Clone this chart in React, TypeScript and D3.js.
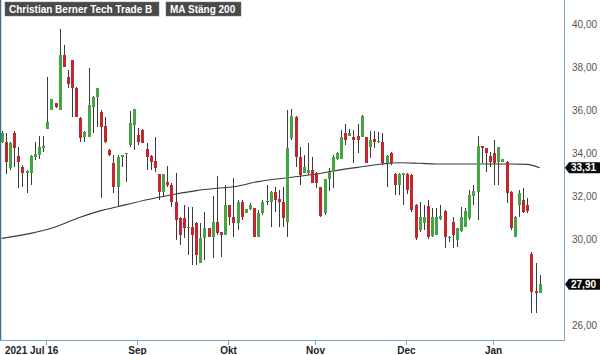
import React from "react";
import * as d3 from "d3";

const W = 600;
const H = 355;

const title = "Christian Berner Tech Trade B";
const maLabel = "MA Stäng 200";

const startDate = "2021-07-16";
const endDate = "2022-01-19";
const holidays = ["2021-12-24", "2021-12-31", "2022-01-06"];

const openV = [34.53,34.53,33.29,34.94,33.86,33.36,33.09,33.08,33.83,33.91,
34.23,35.10,36.00,36.31,36.00,38.56,37.52,38.33,37.04,35.64,
34.73,34.76,36.13,36.62,35.92,35.26,34.14,33.55,32.43,33.83,
33.95,34.37,35.30,34.84,35.07,34.17,33.86,33.64,33.02,32.20,
32.67,32.51,31.74,30.96,30.96,30.50,30.56,30.76,28.87,30.03,
30.50,30.11,30.80,30.34,30.19,31.58,31.04,30.73,31.74,31.20,
31.38,31.43,30.11,31.20,31.74,31.74,32.20,31.85,31.74,30.80,
34.68,35.66,33.83,33.08,33.06,33.21,33.08,32.40,31.22,32.78,
33.13,33.71,33.71,34.94,34.79,34.76,34.79,34.73,34.73,34.29,
34.64,34.53,34.53,33.52,34.01,33.02,32.51,32.98,33.02,32.98,
31.58,30.42,30.73,31.54,30.14,30.19,30.92,31.32,30.03,30.80,
29.95,30.39,30.57,30.96,32.00,32.20,34.33,34.22,33.86,34.01,
33.60,33.60,33.60,32.20,30.11,31.58,31.81,31.58,29.30,27.58,
27.47];

const highV = [35.02,34.92,34.51,35.02,34.29,33.44,33.21,33.91,34.53,34.79,
34.79,37.55,36.53,36.33,39.75,39.02,37.86,38.33,37.07,35.67,
35.02,37.97,36.65,37.02,36.00,35.69,34.19,33.91,33.91,33.91,
34.01,35.97,36.03,35.15,35.10,34.45,33.91,34.76,33.02,33.02,
33.40,32.60,33.06,31.04,31.58,31.50,31.50,30.79,30.73,31.27,
30.51,32.00,32.93,30.34,32.51,31.58,32.82,31.81,31.81,31.40,
31.66,31.44,31.35,31.81,32.51,32.23,32.43,32.28,32.43,36.00,
36.03,35.72,34.29,33.91,34.45,33.83,33.12,32.42,32.79,33.29,
33.91,34.06,35.07,35.35,35.10,35.07,35.35,35.77,34.74,35.04,
35.04,34.99,34.92,33.91,34.05,33.07,33.07,33.07,33.07,33.02,
31.63,31.74,31.58,31.81,31.44,31.43,31.58,31.35,30.14,31.04,
30.50,31.47,31.43,32.28,32.51,34.79,34.33,34.23,34.06,34.60,
34.29,33.72,33.63,32.23,31.07,32.28,32.36,31.89,29.41,28.90,
28.33];

const lowV = [34.47,33.02,33.21,33.36,32.36,32.43,32.13,32.51,33.67,33.71,
34.06,35.10,36.00,36.09,36.00,38.01,37.01,35.69,35.67,34.53,
34.53,34.74,34.93,35.22,31.89,34.45,33.86,32.13,31.50,33.36,
32.67,34.29,34.14,34.37,34.45,33.21,33.21,33.13,31.81,31.97,
32.43,31.50,29.95,29.72,30.03,29.26,28.79,28.79,28.87,29.02,
30.11,29.10,30.19,29.18,30.19,30.65,30.11,30.42,30.88,31.20,
31.35,30.11,30.11,31.12,31.58,30.57,31.27,30.57,30.57,30.11,
34.60,33.36,32.51,33.06,32.98,32.59,32.36,31.04,31.12,32.25,
32.36,33.67,33.71,34.37,34.79,33.52,33.99,34.73,33.52,33.75,
34.22,34.48,33.44,32.43,33.44,32.05,32.05,31.58,32.09,31.27,
29.95,30.34,30.42,29.99,30.11,30.19,30.88,29.57,29.87,29.57,
29.64,30.34,30.57,30.88,31.58,30.88,33.52,33.13,33.36,32.51,
32.51,33.58,31.66,30.42,30.09,31.04,31.20,31.20,26.57,26.57,
27.47];

const closeV = [34.92,33.60,34.45,34.22,33.60,33.08,33.16,33.86,33.95,34.29,
34.33,35.46,36.50,36.13,38.56,38.01,37.21,37.01,35.69,34.71,
34.99,36.23,36.62,37.01,35.22,34.53,33.91,32.43,33.83,33.91,
34.01,35.38,36.03,34.53,34.48,33.83,33.60,33.29,32.20,33.02,
32.51,31.74,30.88,30.19,30.50,30.57,30.19,29.26,30.03,30.50,
30.11,30.80,30.27,30.19,31.58,31.04,30.73,31.74,31.04,31.38,
31.58,30.11,31.20,31.74,31.79,32.20,31.81,31.74,30.96,34.22,
35.72,33.83,32.98,33.36,33.21,32.62,32.62,31.07,32.79,33.13,
33.83,34.01,34.76,34.60,34.92,34.60,34.60,35.72,33.52,34.60,
34.53,34.57,33.52,33.86,33.52,32.51,33.02,33.06,32.28,31.35,
30.03,31.01,31.01,30.08,31.01,31.01,31.07,30.08,30.11,30.19,
30.50,31.01,31.32,32.05,32.25,34.33,34.22,33.99,33.60,33.52,
34.29,33.71,32.13,30.50,31.04,32.13,31.27,31.32,27.55,27.47,
27.90];

// MA 200 read at points (trading-day index, value)
const maIndex = [0, 12, 19, 24, 28, 32, 38, 42, 47, 52, 56, 62, 69, 76, 80, 87, 92, 96, 101, 105, 115, 123, 127, 130];
const maValue = [30.03, 30.50, 31.01, 31.32, 31.50, 31.69, 31.94, 32.09, 32.25, 32.36, 32.43, 32.67, 32.85, 33.02, 33.16, 33.36, 33.49, 33.55, 33.52, 33.49, 33.49, 33.49, 33.47, 33.31];

const tickDates = ["2021-08-02", "2021-09-01", "2021-10-01", "2021-11-01", "2021-12-01", "2022-01-03"];
const tickLabels = ["2021 Jul 16", "Sep", "Okt", "Nov", "Dec", "Jan"];

const yTicks = [26, 28, 30, 32, 34, 36, 38, 40];
const lastClose = 27.90;
const lastMA = 33.31;

const fmtDay = d3.timeFormat("%Y-%m-%d");
const parseDay = d3.timeParse("%Y-%m-%d");
const dates = d3
  .timeDay.range(parseDay(startDate)!, d3.timeDay.offset(parseDay(endDate)!, 1))
  .filter((d) => d.getDay() !== 0 && d.getDay() !== 6 && !holidays.includes(fmtDay(d)))
  .map(fmtDay);

const plot = { left: 0, right: 564, top: 0, bottom: 340 };

const fmtNum = (v: number) => v.toFixed(2).replace(".", ",");

export default function App() {
  const x = d3.scalePoint<string>().domain(dates).range([1.7, 539.7]);
  const y = d3.scaleLinear().domain([26, 40]).range([325, 24]);

  const green = "#44a544";
  const red = "#c4262e";
  const wick = "#3a3a3a";
  const axisCol = "#7fa8c8";

  const candles = dates.map((d, i) => {
    const cx = Math.round(x(d)!);
    const o = openV[i], c = closeV[i], h = highV[i], l = lowV[i];
    const up = c >= o;
    const yTop = Math.round(y(Math.max(o, c)));
    const yBot = Math.round(y(Math.min(o, c)));
    return (
      <g key={d}>
        <line x1={cx + 0.5} x2={cx + 0.5} y1={Math.round(y(h))} y2={Math.round(y(l))} stroke={wick} strokeWidth={1} />
        <rect x={cx - 1} y={yTop} width={3} height={Math.max(1, yBot - yTop)} fill={up ? green : red} />
      </g>
    );
  });

  const maLine = d3
    .line<number>()
    .x((_, i) => x(dates[maIndex[i]])!)
    .y((v) => y(v))
    .curve(d3.curveMonotoneX)(maValue);

  const tags = [lastMA, lastClose];
  const tagPath = (yc: number) => {
    const h = 5.5;
    return `M565,${yc} L569,${yc - h} L600,${yc - h} L600,${yc + h} L569,${yc + h} Z`;
  };

  return (
    <svg width={W} height={H} style={{ position: "absolute", left: 0, top: 0, background: "#fff" }} fontFamily="'Liberation Sans', Arial, sans-serif">
      <rect x={0} y={0} width={W} height={H} fill="#fff" />
      <defs>
        <clipPath id="plotclip">
          <rect x={plot.left} y={plot.top} width={plot.right - plot.left} height={plot.bottom - plot.top} />
        </clipPath>
      </defs>
      <g clipPath="url(#plotclip)">
        <path d={maLine ?? ""} fill="none" stroke="#3a3a3a" strokeWidth={1.1} />
        {candles}
      </g>
      {/* borders */}
      <line x1={0.5} x2={0.5} y1={0} y2={plot.bottom} stroke="#3f6d8f" strokeWidth={1.5} />
      <line x1={0} x2={plot.right + 0.5} y1={plot.bottom + 0.5} y2={plot.bottom + 0.5} stroke={axisCol} strokeWidth={1} />
      <line x1={plot.right + 0.5} x2={plot.right + 0.5} y1={0} y2={plot.bottom + 0.5} stroke={axisCol} strokeWidth={1} />
      {/* x ticks */}
      {tickDates.map((td, i) => {
        const tx = Math.round(x(td)!) - 0.5;
        return (
          <g key={td}>
            <line x1={tx} x2={tx} y1={plot.bottom} y2={plot.bottom + 5} stroke={axisCol} strokeWidth={1} />
            <text
              x={i === 0 ? 5 : tx}
              y={353.5}
              textAnchor={i === 0 ? "start" : "middle"}
              fontSize={10}
              fontWeight="bold"
              fill="#222"
            >
              {tickLabels[i]}
            </text>
          </g>
        );
      })}
      {/* y labels */}
      {yTicks
        .filter((t) => tags.every((tg) => Math.abs(y(t) - y(tg)) > 11))
        .map((t) => (
          <text key={t} x={572} y={y(t) + 3.5} fontSize={10} fill="#555">
            {fmtNum(t)}
          </text>
        ))}
      {/* value tags */}
      {tags.map((v) => {
        const yc = y(v);
        return (
          <g key={v}>
            <path d={tagPath(yc)} fill="#0a0a0a" />
            <text x={571} y={yc + 3.5} fontSize={10} fontWeight="bold" fill="#fff">
              {fmtNum(v)}
            </text>
          </g>
        );
      })}
      {/* legend */}
      <rect x={5} y={2} width={154} height={14} fill="#4a4a4a" stroke="#777" strokeWidth={0.5} />
      <text x={9} y={13.3} fontSize={10} fontWeight="bold" fill="#fff">{title}</text>
      <rect x={166} y={2} width={75} height={14} fill="#4a4a4a" stroke="#777" strokeWidth={0.5} />
      <text x={170} y={13.3} fontSize={10} fontWeight="bold" fill="#fff">{maLabel}</text>
    </svg>
  );
}
